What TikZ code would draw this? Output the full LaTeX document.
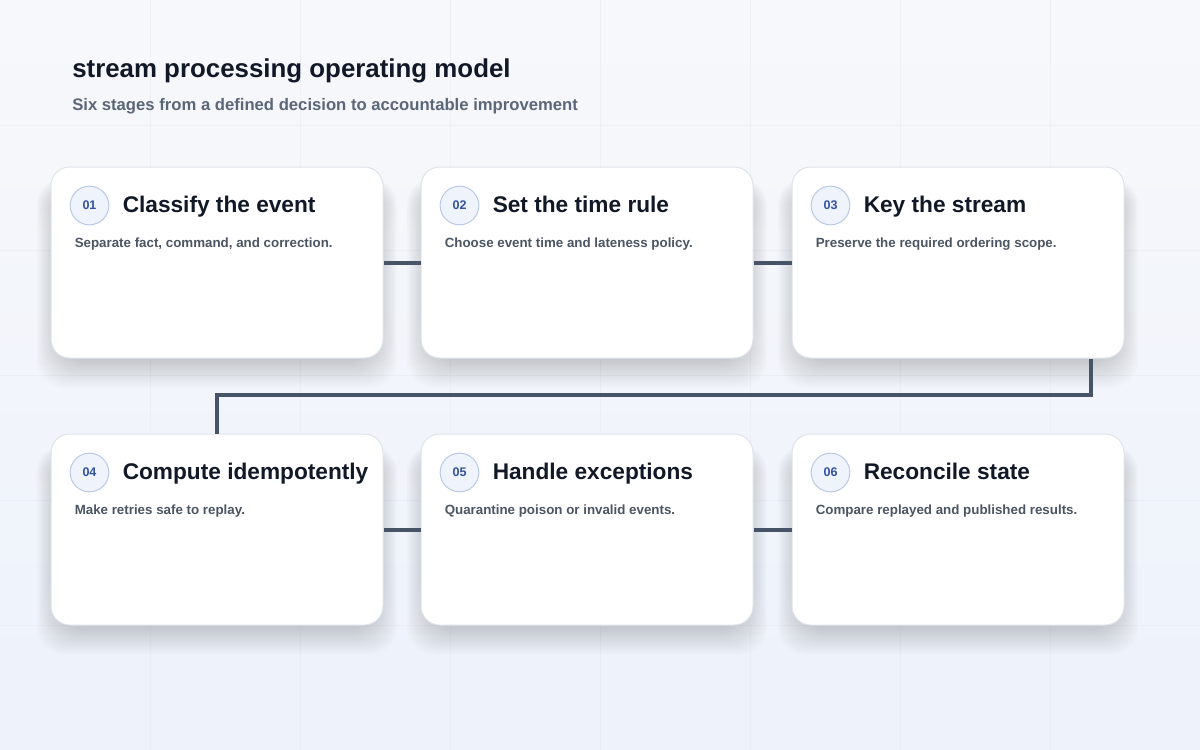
\documentclass[tikz,border=0pt]{standalone}
\usepackage{fontspec}
\setmainfont{Liberation Sans}
\definecolor{ink}{HTML}{111827}
\definecolor{subink}{HTML}{5B6678}
\definecolor{descink}{HTML}{4B5563}
\definecolor{numink}{HTML}{3352A0}
\definecolor{ringfill}{HTML}{EEF3FC}
\definecolor{ringline}{HTML}{B9C9E6}
\definecolor{cardline}{HTML}{DEE3EB}
\definecolor{wire}{HTML}{475467}
\definecolor{bgtop}{HTML}{F7F8FB}
\definecolor{bgbot}{HTML}{EDF2FB}
\definecolor{gridline}{HTML}{E6EAF2}
\definecolor{shade}{HTML}{A3B1CC}
\tikzset{
  card/.style={draw=cardline, line width=0.75pt, fill=white, rounded corners=14pt,
    minimum width=249pt, minimum height=143.25pt},
  num/.style={circle, draw=ringline, line width=0.75pt, fill=ringfill, minimum size=29pt,
    inner sep=0pt, font=\fontsize{9.4}{10}\selectfont\bfseries, text=numink},
  stagetitle/.style={anchor=base west, inner sep=0pt, font=\fontsize{17}{19}\selectfont\bfseries, text=ink},
  desc/.style={anchor=base west, inner sep=0pt, font=\fontsize{10}{12}\selectfont\bfseries, text=descink},
  conn/.style={draw=wire, line width=3pt}
}
\begin{document}
\begin{tikzpicture}[x=0.75pt, y=-0.75pt]
% background and faint grid
\shade[top color=bgtop, bottom color=bgbot] (0,0) rectangle (1200,750);
\useasboundingbox (0,0) rectangle (1200,750);
\foreach \gx in {150,300,...,1050} \draw[gridline, line width=0.4pt, opacity=0.5] (\gx,0) -- (\gx,750);
\foreach \gy in {125,250,...,625} \draw[gridline, line width=0.4pt, opacity=0.5] (0,\gy) -- (1200,\gy);

% heading
\node[anchor=west, inner sep=0pt, font=\fontsize{19.4}{23}\selectfont\bfseries, text=ink] (head) at (72,71) {stream processing operating model};
\node[anchor=west, inner sep=0pt, font=\fontsize{12.5}{14}\selectfont\bfseries, text=subink] (sub) at (72,106) {Six stages from a defined decision to accountable improvement};

% soft shadows under the cards
\foreach \cx/\cy in {217/262.5,587/262.5,958/262.5,217/529.5,587/529.5,958/529.5}
  \foreach \k in {0,...,13}
    \fill[shade, opacity=0.01, rounded corners=20pt]
      (\cx-180+\k*1.8, \cy-84+\k*1.2) rectangle (\cx+180-\k*1.8, \cy+125-\k*1.9);

% cards
\node[card] (c1) at (217,262.5) {};
\node[card] (c2) at (587,262.5) {};
\node[card] (c3) at (958,262.5) {};
\node[card] (c4) at (217,529.5) {};
\node[card] (c5) at (587,529.5) {};
\node[card] (c6) at (958,529.5) {};

% connectors
\coordinate (bend) at (1091,395);
\draw[conn] (c1.east) -- (c2.west);
\draw[conn] (c2.east) -- (c3.west);
\draw[conn] (bend |- c3.south) -- (bend) -| (c4.north);
\draw[conn] (c4.east) -- (c5.west);
\draw[conn] (c5.east) -- (c6.west);

% card contents
\foreach \c/\n/\t/\d in {c1/01/Classify the event/{Separate fact, command, and correction.},
  c2/02/Set the time rule/Choose event time and lateness policy.,
  c3/03/Key the stream/Preserve the required ordering scope.,
  c4/04/Compute idempotently/Make retries safe to replay.,
  c5/05/Handle exceptions/Quarantine poison or invalid events.,
  c6/06/Reconcile state/Compare replayed and published results.}{
  \node[num] (\c n) at ([xshift=39*0.75pt, yshift=-39*0.75pt]\c.north west) {\n};
  \node[stagetitle] (\c t) at ([xshift=72*0.75pt, yshift=-46*0.75pt]\c.north west) {\t};
  \node[desc] (\c d) at ([xshift=24*0.75pt, yshift=-80.5*0.75pt]\c.north west) {\d};
}
\end{tikzpicture}
\end{document}
